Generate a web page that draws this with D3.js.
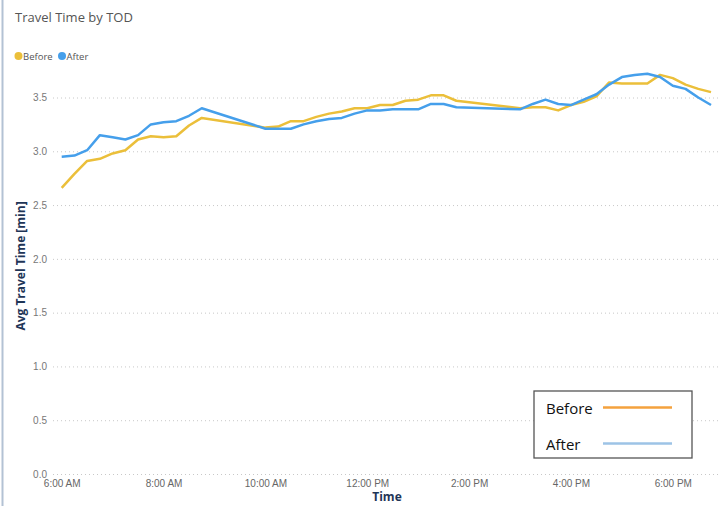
<!DOCTYPE html>
<html>
<head>
<meta charset="utf-8">
<script src="https://cdn.jsdelivr.net/npm/d3@7"></script>
<style>
  body { margin: 0; background: #fff; }
  svg { display: block; font-family: 'Open Sans', 'Noto Sans', sans-serif; }
</style>
</head>
<body>
<script>
'use strict';

// 15 min slots, no data 9:00-9:45 and 2:00-2:45
var times = [
  '6:00', '6:15', '6:30', '6:45', '7:00', '7:15', '7:30', '7:45',
  '8:00', '8:15', '8:30', '8:45',
  '10:00', '10:15', '10:30', '10:45', '11:00', '11:15', '11:30', '11:45',
  '12:00', '12:15', '12:30', '12:45', '13:00', '13:15', '13:30', '13:45',
  '15:00', '15:15', '15:30', '15:45', '16:00', '16:15', '16:30', '16:45',
  '17:00', '17:15', '17:30', '17:45', '18:00', '18:15', '18:30', '18:45'
];

var before = [
  2.66, 2.79, 2.91, 2.93, 2.98, 3.01, 3.11, 3.14,
  3.13, 3.14, 3.24, 3.31,
  3.22, 3.23, 3.28, 3.28, 3.32, 3.35, 3.37, 3.40,
  3.40, 3.43, 3.43, 3.47, 3.48, 3.52, 3.52, 3.47,
  3.40, 3.41, 3.41, 3.38, 3.43, 3.46, 3.51, 3.64,
  3.63, 3.63, 3.63, 3.71, 3.68, 3.62, 3.58, 3.55
];

var after = [
  2.95, 2.96, 3.01, 3.15, 3.13, 3.11, 3.15, 3.25,
  3.27, 3.28, 3.33, 3.40,
  3.21, 3.21, 3.21, 3.25, 3.28, 3.30, 3.31, 3.35,
  3.38, 3.38, 3.39, 3.39, 3.39, 3.44, 3.44, 3.41,
  3.39, 3.44, 3.48, 3.44, 3.43, 3.48, 3.53, 3.62,
  3.69, 3.71, 3.72, 3.69, 3.61, 3.58, 3.50, 3.43
];

var yTicks = [0, 0.5, 1, 1.5, 2, 2.5, 3, 3.5];

var series = [
  { name: 'Before', values: before, color: '#EBBF3A' },
  { name: 'After', values: after, color: '#459FEB' }
];

var width = 721,
  height = 506,
  gridLeft = 53;

var parseTime = d3.timeParse('%H:%M');

var x = d3.scaleTime()
  .domain([parseTime('6:00'), parseTime('18:45')])
  .range([61.7, 711]);

var y = d3.scaleLinear()
  .domain([0, 3.5])
  .range([474, 97.5]);

var svg = d3.select('body').append('svg')
  .attr('width', width)
  .attr('height', height);

// left frame edge
svg.append('line')
  .attr('x1', 2.5).attr('x2', 2.5)
  .attr('y1', 0).attr('y2', height)
  .attr('stroke', '#b3c2d4')
  .attr('stroke-width', 2);

svg.append('text')
  .attr('x', 15)
  .attr('y', 22)
  .attr('font-size', 13)
  .attr('fill', '#555')
  .text('Travel Time by TOD');

// top legend
var topLegend = svg.append('g').attr('transform', 'translate(0,56)');
var legendX = [18.5, 62];
series.forEach(function(s, i) {
  topLegend.append('circle')
    .attr('cx', legendX[i]).attr('cy', 0).attr('r', 4)
    .attr('fill', s.color);
  topLegend.append('text')
    .attr('x', legendX[i] + 4.5)
    .attr('y', 3.5)
    .attr('font-size', 9.5)
    .attr('fill', '#555')
    .text(s.name);
});

// y axis + gridlines
var yAxis = svg.append('g')
  .attr('transform', 'translate(' + gridLeft + ',0)')
  .call(d3.axisLeft(y)
    .tickValues(yTicks)
    .tickFormat(d3.format('.1f'))
    .tickSize(-(width - gridLeft))
    .tickPadding(6));

yAxis.select('.domain').remove();
yAxis.selectAll('line')
  .attr('stroke', '#c8c8c8')
  .attr('stroke-dasharray', '1,3');
yAxis.selectAll('text')
  .attr('font-size', 10)
  .attr('fill', '#777')
  .attr('font-family', null);

// x axis
var xAxis = svg.append('g')
  .attr('transform', 'translate(0,478)')
  .call(d3.axisBottom(x)
    .ticks(d3.timeHour.every(2))
    .tickFormat(d3.timeFormat('%-I:%M %p'))
    .tickSize(0)
    .tickPadding(2));

xAxis.select('.domain').remove();
xAxis.selectAll('text')
  .attr('font-size', 10)
  .attr('fill', '#666')
  .attr('font-family', null);

// axis titles
svg.append('text')
  .attr('transform', 'translate(25,266) rotate(-90)')
  .attr('text-anchor', 'middle')
  .attr('font-size', 12)
  .attr('font-weight', 'bold')
  .attr('fill', '#1e3557')
  .text('Avg Travel Time [min]');

svg.append('text')
  .attr('x', 387)
  .attr('y', 501)
  .attr('text-anchor', 'middle')
  .attr('font-size', 12)
  .attr('font-weight', 'bold')
  .attr('fill', '#1e3557')
  .text('Time');

// lines
var line = d3.line()
  .x(function(d, i) { return x(parseTime(times[i])); })
  .y(function(d) { return y(d); });

series.forEach(function(s) {
  svg.append('path')
    .datum(s.values)
    .attr('fill', 'none')
    .attr('stroke', s.color)
    .attr('stroke-width', 2.5)
    .attr('stroke-linejoin', 'round')
    .attr('d', line);
});

// boxed legend, lower right
var box = svg.append('g').attr('transform', 'translate(534,391)');
box.append('rect')
  .attr('width', 158)
  .attr('height', 67)
  .attr('fill', '#fff')
  .attr('stroke', '#555')
  .attr('stroke-width', 1.3);

var boxColors = ['#F4A23E', '#9DC3E6'];
series.forEach(function(s, i) {
  var cy = 16.5 + i * 36;
  box.append('text')
    .attr('x', 12)
    .attr('y', cy + 6)
    .attr('font-size', 15)
    .attr('fill', '#111')
    .text(s.name);
  box.append('line')
    .attr('x1', 69).attr('x2', 138)
    .attr('y1', cy).attr('y2', cy)
    .attr('stroke', boxColors[i])
    .attr('stroke-width', 2.5);
});
</script>
</body>
</html>
